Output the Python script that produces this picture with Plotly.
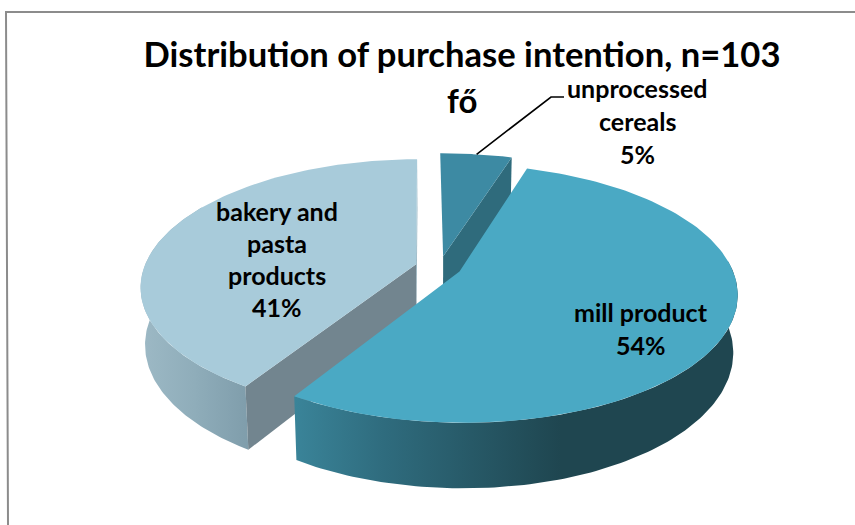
import numpy as np
import plotly.graph_objects as go

# Survey shares, clockwise from the first slice
categories = ["unprocessed cereals", "mill product", "bakery and pasta products"]
shares = [5, 54, 41]
label_lines = [["unprocessed", "cereals"], ["mill product"], ["bakery and", "pasta", "products"]]
title_lines = ["Distribution of purchase intention, n=103", "fő"]

# Pie geometry in page pixels: a tilted disc projected with mild perspective
CX, CY = 439.6, 267.3
RX, RY = 272.0, 124.0
PERSP = 0.17
EXPLODE = [0.09, 0.08, 0.09]
THICK = 56.0
BASE_SCALE = 0.985
FIRST_ANGLE = -0.6
FONT = "Lato"

TOP_COLORS = ["#3d8aa3", "#4aa9c4", "#a8cbda"]
EDGE_COLORS = ["#2f6b7c", "#2f6b7c", "#72858f"]


def ground(theta, radius, offset):
    t = np.radians(theta)
    return offset[0] + radius * np.sin(t), offset[1] + radius * np.cos(t)


def project(px, py, lower=False):
    w = 1 + PERSP * py
    if lower:
        return CX + RX * BASE_SCALE * px / w, CY - RY * BASE_SCALE * py / w + THICK / w
    return CX + RX * px / w, CY - RY * py / w


def arc(t0, t1, offset, lower=False, n=120):
    px, py = ground(np.linspace(t0, t1, n), 1.0, offset)
    return project(px, py, lower)


def polygon(xs, ys, color=None, gradient=None):
    xs, ys = list(xs), list(ys)
    kw = {"fillgradient": gradient} if gradient else {"fillcolor": color}
    return go.Scatter(x=xs + xs[:1], y=ys + ys[:1], mode="lines", fill="toself",
                      line={"width": 0}, hoverinfo="skip", showlegend=False, **kw)


def top_face(t0, t1, offset, color):
    ax, ay = project(*offset)
    x, y = arc(t0, t1, offset)
    return polygon([ax, *x], [ay, *y], color)


def outer_wall(t0, t1, offset, gradient):
    x0, y0 = arc(t0, t1, offset)
    x1, y1 = arc(t0, t1, offset, lower=True)
    return polygon([*x0, *x1[::-1]], [*y0, *y1[::-1]], gradient=gradient)


def edge_wall(theta, offset, color):
    ax, ay = project(*offset)
    bx, by = project(*offset, lower=True)
    rx, ry = project(*ground(theta, 1.0, offset))
    sx, sy = project(*ground(theta, 1.0, offset), lower=True)
    return polygon([ax, rx, sx, bx], [ay, ry, sy, by], color)


def ramp(stops):
    return {"type": "horizontal", "colorscale": stops}


# Slice spans and their pull-out offsets
edges = FIRST_ANGLE + np.cumsum([0] + shares) * 3.6
spans = list(zip(edges[:-1], edges[1:]))
offsets = []
for (t0, t1), pull in zip(spans, EXPLODE):
    mid = np.radians((t0 + t1) / 2)
    offsets.append((pull * np.sin(mid), pull * np.cos(mid)))

fig = go.Figure()

# Back to front: bakery, then cereals, then the large mill slice
b0, b1 = spans[2]
fig.add_trace(edge_wall(b1, offsets[2], "#8fb0be"))
fig.add_trace(outer_wall(b0, 300, offsets[2], ramp([[0, "#9db9c5"], [0.5, "#8fadba"], [1, "#7f9dab"]])))
fig.add_trace(edge_wall(b0, offsets[2], EDGE_COLORS[2]))
fig.add_trace(top_face(b0, b1, offsets[2], TOP_COLORS[2]))

c0, c1 = spans[0]
fig.add_trace(edge_wall(c1, offsets[0], EDGE_COLORS[0]))
fig.add_trace(top_face(c0, c1, offsets[0], TOP_COLORS[0]))

m0, m1 = spans[1]
fig.add_trace(outer_wall(85, m1, offsets[1], ramp([[0, "#3a8499"], [0.2, "#2f6c7e"], [0.6, "#1f4650"], [1, "#1f4650"]])))
fig.add_trace(top_face(m0, m1, offsets[1], TOP_COLORS[1]))

# Leader line from the cereals slice to its label
lx, ly = project(*ground(8.5, 1.0, offsets[0]))
fig.add_trace(go.Scatter(x=[lx, 551, 564], y=[ly, 97, 97], mode="lines",
                         line={"color": "#000000", "width": 1.6}, hoverinfo="skip", showlegend=False))

# Chart frame, open to the right and bottom of the page
fig.add_trace(go.Scatter(x=[8, 6, 855], y=[525, 12, 12], mode="lines",
                         line={"color": "#8c8c8c", "width": 2}, hoverinfo="skip", showlegend=False))

# Data labels, one annotation per line
label_anchor = [(637, 88), (641, 312), (277, 211)]
LINE_STEP = [33, 33, 32]
annotations = []
for i, lines in enumerate(label_lines):
    ax, ay = label_anchor[i]
    rows = lines + [f"{shares[i]}%"]
    for j, row in enumerate(rows):
        annotations.append(dict(x=ax, y=ay + j * LINE_STEP[i], text=row, showarrow=False,
                                xref="x", yref="y", xanchor="center", yanchor="middle",
                                font={"family": FONT, "size": 25, "color": "#000000", "weight": "bold"}))

annotations.append(dict(x=462, y=100, text=title_lines[1], showarrow=False, xref="x", yref="y",
                        xanchor="center", yanchor="middle",
                        font={"family": FONT, "size": 33, "color": "#000000", "weight": "bold"}))

fig.update_layout(
    width=855, height=525,
    margin={"l": 0, "r": 0, "t": 0, "b": 0},
    paper_bgcolor="#ffffff", plot_bgcolor="#ffffff",
    showlegend=False,
    title={"text": title_lines[0], "x": 462 / 855, "xanchor": "center", "y": 1 - 55 / 525,
           "yanchor": "middle", "font": {"family": FONT, "size": 34.6, "color": "#000000", "weight": "bold"}},
    xaxis={"range": [0, 855], "visible": False, "fixedrange": True},
    yaxis={"range": [525, 0], "visible": False, "fixedrange": True},
    annotations=annotations,
)

fig.write_html("out.html", config={"displayModeBar": False})
